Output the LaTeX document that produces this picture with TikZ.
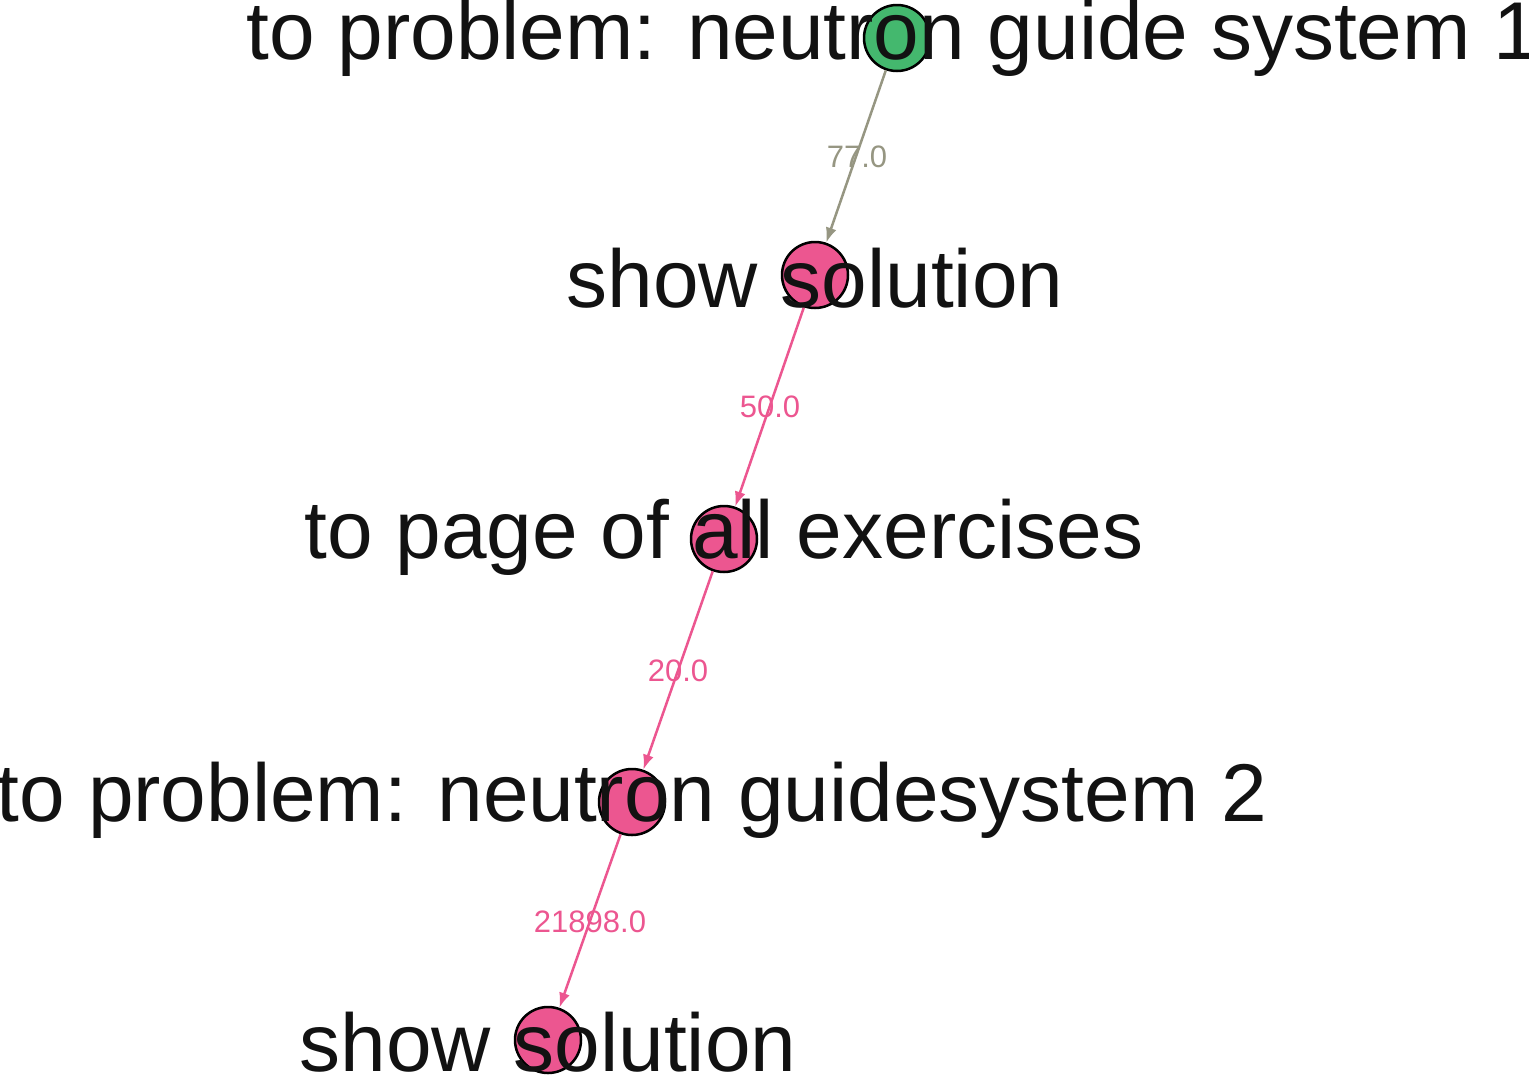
\documentclass[tikz,border=0pt]{standalone}
\usepackage{fontspec}
\setmainfont{Liberation Sans}
\usetikzlibrary{arrows.meta}
\definecolor{gr}{RGB}{68,184,110}
\definecolor{pk}{RGB}{236,86,144}
\definecolor{eg}{RGB}{150,150,130}
\tikzset{
 vtx/.style={circle,draw=black,line width=2.5pt,minimum size=66pt,inner sep=0pt},
 lab/.style={font=\fontsize{82}{82}\selectfont,text=black!93,inner sep=0pt},
 edg/.style={line width=2.5pt,-{Latex[length=15pt,width=11pt]}},
 elab/.style={font=\fontsize{31}{31}\selectfont,inner sep=0pt}
}
\begin{document}
\begin{tikzpicture}[x=1pt,y=-1pt]
\useasboundingbox (0,0) rectangle (1529,1077);
\clip (0,0) rectangle (1529,1077);
\node[vtx,fill=gr] (a) at (897,38) {};
\node[vtx,fill=pk] (b) at (815,275) {};
\node[vtx,fill=pk] (c) at (724,539) {};
\node[vtx,fill=pk] (d) at (632,802) {};
\node[vtx,fill=pk] (e) at (548,1040) {};
\draw[edg,eg] (a) -- (b);
\draw[edg,pk] (b) -- (c);
\draw[edg,pk] (c) -- (d);
\draw[edg,pk] (d) -- (e);
\node[elab,text=eg] (l1) at (857,157) {77.0};
\node[elab,text=pk] (l2) at (770,407) {50.0};
\node[elab,text=pk] (l3) at (678,671) {20.0};
\node[elab,text=pk] (l4) at (590,922) {21898.0};
\node[lab] (ta) at (893,38) {to problem: neutron guide system 1};
\node[lab] (tb) at (815,278) {show solution};
\node[lab] (tc) at (724,537) {to page of all exercises};
\node[lab] (td) at (632,800) {to problem: neutron guidesystem 2};
\node[lab] (te) at (548,1042) {show solution};
\end{tikzpicture}
\end{document}
